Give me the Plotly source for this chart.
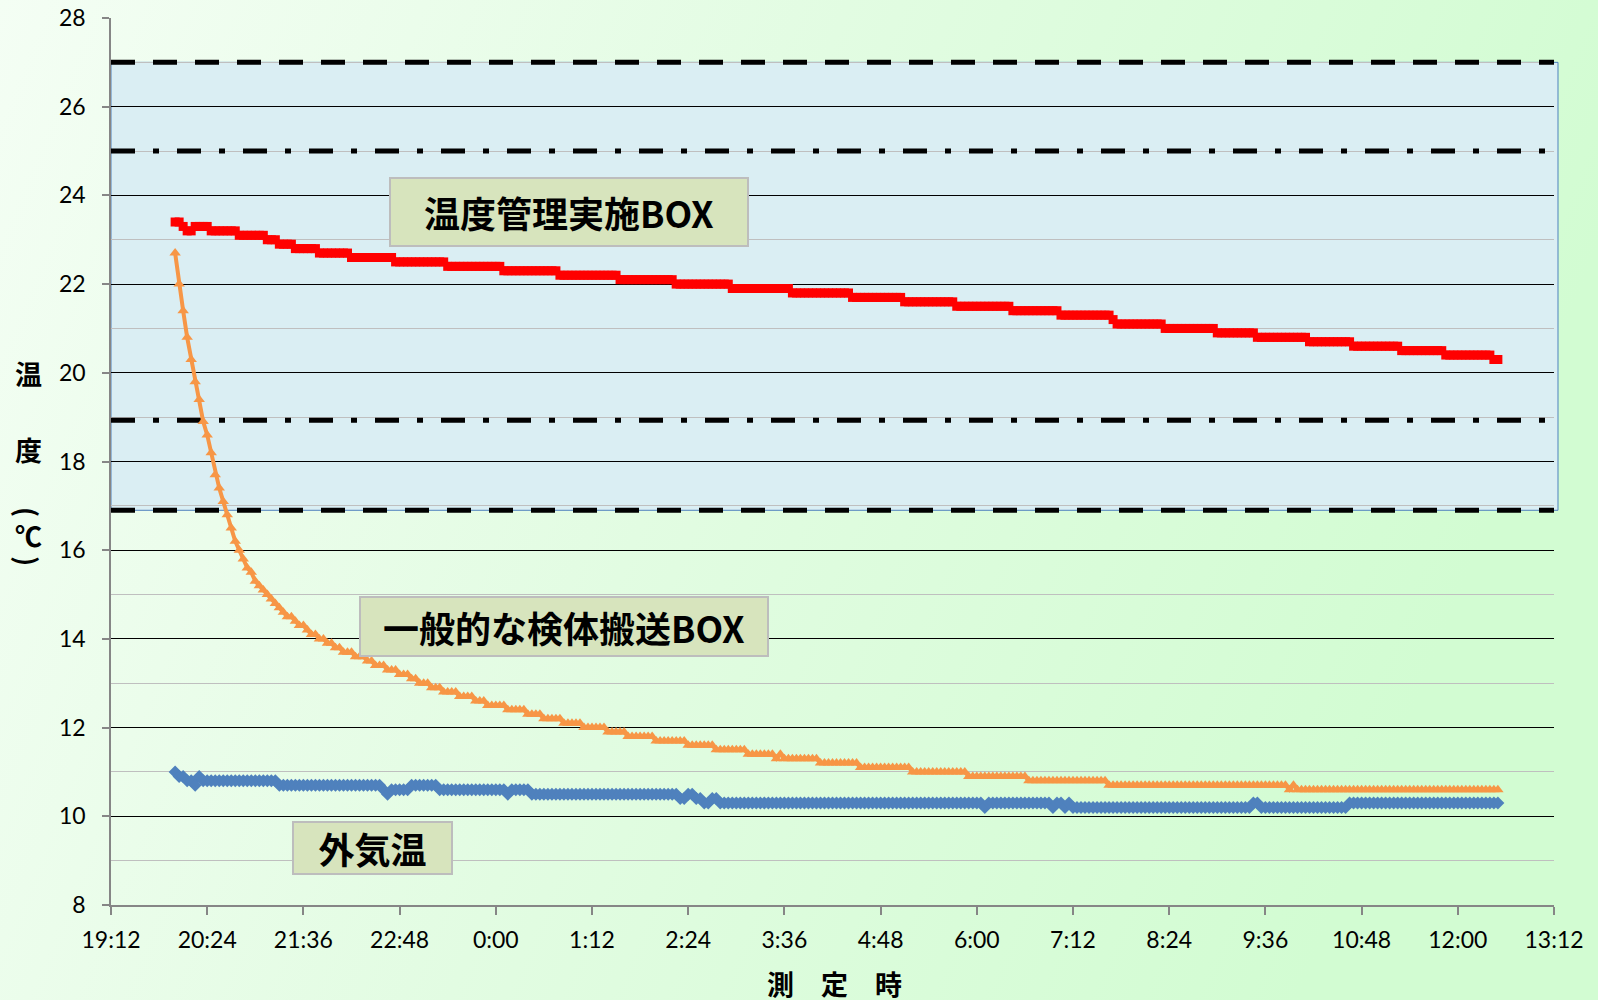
import base64
import numpy as np
import pandas as pd
import plotly.graph_objects as go

# Logger sampling grid
SAMPLE_START = "2000-01-01 20:00"
SAMPLE_STEP_MIN = 3
SAMPLE_COUNT = 331

# Each series is stored as readings (°C) and the minute offset at which each reading begins;
# a reading holds until the next one starts.
red_change_min = [0, 6, 9, 15, 27, 48, 69, 78, 90, 108, 132, 165, 204, 246, 288, 333, 375, 417,
                  462, 507, 546, 585, 627, 663, 702, 705, 741, 780, 810, 849, 882, 918, 951, 987]
red_levels = [23.4, 23.3, 23.2, 23.3, 23.2, 23.1, 23.0, 22.9, 22.8, 22.7, 22.6, 22.5, 22.4, 22.3,
              22.2, 22.1, 22.0, 21.9, 21.8, 21.7, 21.6, 21.5, 21.4, 21.3, 21.2, 21.1, 21.0, 20.9,
              20.8, 20.7, 20.6, 20.5, 20.4, 20.3]

orange_change_min = [0, 3, 6, 9, 12, 15, 18, 21, 24, 27, 30, 33, 36, 39, 42, 45, 48, 51, 54, 57,
                     60, 63, 66, 69, 72, 75, 78, 81, 84, 90, 93, 99, 102, 108, 114, 120, 126, 135,
                     144, 150, 159, 168, 177, 183, 192, 201, 213, 225, 234, 249, 264, 276, 291,
                     306, 324, 339, 360, 384, 405, 429, 450, 453, 456, 483, 513, 552, 594, 639,
                     699, 834, 837, 840]
orange_levels = [22.7, 22.0, 21.4, 20.8, 20.3, 19.8, 19.4, 18.9, 18.6, 18.2, 17.7, 17.4, 17.1,
                 16.8, 16.5, 16.2, 16.0, 15.8, 15.6, 15.5, 15.3, 15.2, 15.1, 15.0, 14.9, 14.8,
                 14.7, 14.6, 14.5, 14.4, 14.3, 14.2, 14.1, 14.0, 13.9, 13.8, 13.7, 13.6, 13.5,
                 13.4, 13.3, 13.2, 13.1, 13.0, 12.9, 12.8, 12.7, 12.6, 12.5, 12.4, 12.3, 12.2,
                 12.1, 12.0, 11.9, 11.8, 11.7, 11.6, 11.5, 11.4, 11.3, 11.4, 11.3, 11.2, 11.1,
                 11.0, 10.9, 10.8, 10.7, 10.6, 10.7, 10.6]

blue_change_min = [0, 3, 9, 15, 18, 21, 78, 156, 159, 162, 177, 198, 249, 252, 267, 378, 384,
                   390, 396, 402, 408, 606, 609, 657, 660, 666, 669, 672, 807, 813, 879]
blue_levels = [11.0, 10.9, 10.8, 10.7, 10.9, 10.8, 10.7, 10.6, 10.5, 10.6, 10.7, 10.6, 10.5,
               10.6, 10.5, 10.4, 10.5, 10.4, 10.3, 10.4, 10.3, 10.2, 10.3, 10.2, 10.3, 10.2,
               10.3, 10.2, 10.3, 10.2, 10.3]

series_names = ["外気温", "一般的な検体搬送BOX", "温度管理実施BOX"]

x_tick_labels = ["19:12", "20:24", "21:36", "22:48", "0:00", "1:12", "2:24", "3:36", "4:48",
                 "6:00", "7:12", "8:24", "9:36", "10:48", "12:00", "13:12"]
y_tick_values = [8, 10, 12, 14, 16, 18, 20, 22, 24, 26, 28]

# Control band and its limit lines (°C)
band_range = [16.9, 27]
dash_levels = [27, 16.9]
dashdot_levels = [25, 18.93]

x_title = "測　定　時"
y_title_parts = ["温", "度", "(", "℃", ")"]

# ---------------------------------------------------------------------------
W, H = 1598, 1000
L, R, T, B = 111, 44, 18, 95
PW, PH = W - L - R, H - T - B


def paper_x(px):
    return (px - L) / PW


def paper_y(py):
    return (H - B - py) / PH


start = pd.Timestamp(SAMPLE_START)
offsets = np.arange(SAMPLE_COUNT) * SAMPLE_STEP_MIN
times = start + pd.to_timedelta(offsets, unit="min")


def hold(change_min, levels):
    idx = np.searchsorted(np.asarray(change_min), offsets, side="right") - 1
    return np.asarray(levels)[idx]


axis_start = pd.Timestamp("2000-01-01 19:12")
tick_vals = [axis_start + pd.Timedelta(minutes=72 * i) for i in range(len(x_tick_labels))]
x_span = [tick_vals[0], tick_vals[-1]]

fig = go.Figure()

# limit lines of the control band, under the measured series
for lv in dash_levels:
    fig.add_trace(go.Scatter(x=x_span, y=[lv, lv], mode="lines", showlegend=False,
                             hoverinfo="skip", line=dict(color="black", width=5, dash="24px,18px")))
for lv in dashdot_levels:
    fig.add_trace(go.Scatter(x=x_span, y=[lv, lv], mode="lines", showlegend=False,
                             hoverinfo="skip",
                             line=dict(color="black", width=5, dash="24px,18px,6px,18px")))

styles = [
    (blue_change_min, blue_levels, "#4F81BD", "diamond", 10, 3),
    (orange_change_min, orange_levels, "#F79646", "triangle-up", 10, 4),
    (red_change_min, red_levels, "#FF0000", "square", 9, 3.5),
]
for name, (chg, lv, color, symbol, size, lw) in zip(series_names, styles):
    fig.add_trace(go.Scatter(
        x=times, y=hold(chg, lv), name=name, mode="lines+markers",
        line=dict(color=color, width=lw),
        marker=dict(symbol=symbol, size=size, color=color, line=dict(width=0)),
        showlegend=False, hoverinfo="skip",
    ))

# soft green page gradient
svg = (
    "<svg xmlns='http://www.w3.org/2000/svg' width='1598' height='1000' preserveAspectRatio='none'>"
    "<defs><linearGradient id='g' x1='0' y1='0' x2='1' y2='0.25'>"
    "<stop offset='0' stop-color='#F4FEF4'/><stop offset='0.5' stop-color='#E2FCE2'/>"
    "<stop offset='1' stop-color='#D2FCD2'/></linearGradient></defs>"
    "<rect width='1598' height='1000' fill='url(#g)'/></svg>"
)
bg_src = "data:image/svg+xml;base64," + base64.b64encode(svg.encode()).decode()
fig.add_layout_image(dict(
    source=bg_src, xref="paper", yref="paper", x=paper_x(0), y=paper_y(0),
    sizex=W / PW, sizey=H / PH, xanchor="left", yanchor="top", sizing="stretch",
    layer="below",
))

# control band
fig.add_shape(type="rect", xref="paper", yref="y", x0=0, x1=1 + 4 / PW,
              y0=band_range[0], y1=band_range[1], fillcolor="#DAEEF3",
              line=dict(color="#4F81BD", width=1), layer="below")

# series labels
label_boxes = [
    (series_names[2], 569, 212, 356, 66),
    (series_names[1], 564, 626.5, 406, 57),
    (series_names[0], 372, 848, 157, 50),
]
for text, cx, cy, bw, bh in label_boxes:
    fig.add_annotation(
        x=paper_x(cx), y=paper_y(cy), xref="paper", yref="paper",
        text=f"<b>{text}</b>", showarrow=False, xanchor="center", yanchor="middle",
        font=dict(family="Noto Sans CJK JP", size=36, color="black"),
        bgcolor="#D7E4BD", bordercolor="#BDBDBD", borderwidth=2, borderpad=0,
        width=bw, height=bh,
    )

# axis titles
title_font = dict(family="Noto Sans CJK JP", size=27, color="black")
fig.add_annotation(x=paper_x(834), y=paper_y(983), xref="paper", yref="paper",
                   text=f"<b>{x_title}</b>", showarrow=False, xanchor="center", yanchor="middle",
                   font=title_font)
# vertical title: characters stacked, brackets turned to lie across the column
for ch, cy in zip(y_title_parts, [373, 449, 512, 535, 561]):
    fig.add_annotation(x=paper_x(28), y=paper_y(cy), xref="paper", yref="paper",
                       text=f"<b>{ch}</b>", showarrow=False, xanchor="center", yanchor="middle",
                       textangle=90 if ch in "()" else 0, font=title_font)

tick_font = dict(family="Lato", size=23, color="black")
fig.update_xaxes(
    type="date", range=x_span, tickvals=tick_vals, ticktext=x_tick_labels,
    showgrid=False, zeroline=False, showline=True, linecolor="#868686", linewidth=1.5,
    ticks="outside", ticklen=8, tickcolor="#868686", tickwidth=1.5, tickfont=tick_font,
    ticklabelstandoff=6, automargin=False,
)
fig.update_yaxes(
    range=[8, 28], tickvals=y_tick_values, showgrid=True, gridcolor="black", gridwidth=1.3,
    minor=dict(dtick=1, tick0=8, showgrid=True, gridcolor="#BFBFBF", gridwidth=1.3, ticks=""),
    zeroline=False, showline=True, linecolor="#868686", linewidth=1.5,
    ticks="outside", ticklen=7, tickcolor="#868686", tickwidth=1.5, tickfont=tick_font,
    ticklabelstandoff=12, automargin=False,
)
fig.update_layout(
    width=W, height=H, margin=dict(l=L, r=R, t=T, b=B, autoexpand=False),
    paper_bgcolor="#E3FCE3", plot_bgcolor="rgba(0,0,0,0)",
)

fig.write_html("out.html", config={"displayModeBar": False})
